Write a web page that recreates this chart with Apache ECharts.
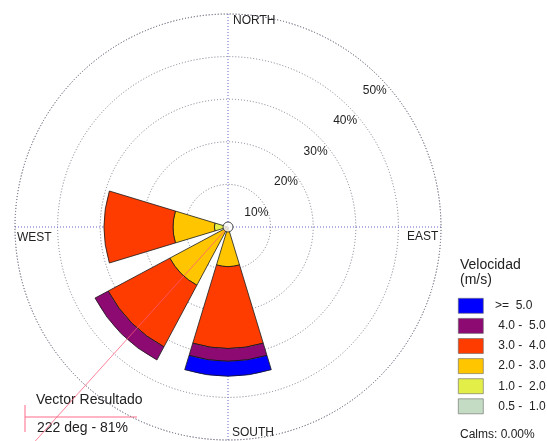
<!DOCTYPE html>
<html>
<head>
<meta charset="utf-8">
<script src="https://cdn.jsdelivr.net/npm/echarts@6/dist/echarts.min.js"></script>
<style>
html,body{margin:0;padding:0;background:#fff;}
#main{width:547px;height:441px;}
</style>
</head>
<body>
<div id="main"></div>
<script>
// direcciones (8 rumbos)
var directions = ['N','NE','E','SE','S','SW','W','NW'];
// frecuencias (%) por clase de velocidad, en el orden de directions
var v05_10 = [0, 0, 0, 0, 0, 0, 0, 0];
var v10_20 = [0, 0, 0, 0, 0, 0, 3.2, 0];
var v20_30 = [0, 0, 0, 0, 9.3, 15.5, 9.7, 0];
var v30_40 = [0, 0, 0, 0, 19.2, 16.4, 16.2, 0];
var v40_50 = [0, 0, 0, 0, 3.0, 3.5, 0, 0];
var v50_up = [0, 0, 0, 0, 3.5, 0, 0, 0];
var speedClasses = ['0.5 - 1.0','1.0 - 2.0','2.0 - 3.0','3.0 - 4.0','4.0 - 5.0','>= 5.0'];
var speedLabels = [' 0.5 -  1.0',' 1.0 -  2.0',' 2.0 -  3.0',' 3.0 -  4.0',' 4.0 -  5.0','>=  5.0'];
var speedColors = ['#c4dcc4','#e4ee48','#ffc600','#ff3c00','#8c0a72','#0000ff'];
var compass = ['NORTH','EAST','SOUTH','WEST'];
// vector resultante
var vectorDir = 222;
var vectorPct = 81;
var calms = 0.00;

var FONT = '"Liberation Sans", Arial, sans-serif';
var CX = 228, CY = 227, R = 213;

function init(){
	var myChart = echarts.init(document.getElementById('main'));
	var values = [v05_10, v10_20, v20_30, v30_40, v40_50, v50_up];
	var series = [];
	for(var i=0;i<speedClasses.length;i++){
		series.push({
			name:speedClasses[i],
			type:'bar',
			coordinateSystem:'polar',
			polarIndex:0,
			stack:'freq',
			barCategoryGap:'25%',
			// los ceros no se dibujan
			data:values[i].map(function(v){ return v === 0 ? '-' : v; }),
			itemStyle:{color:speedColors[i],borderColor:'#1a1a1a',borderWidth:0.8},
			emphasis:{disabled:true},
			z:3
		});
	}
	// vector resultado
	series.push({
		type:'line',
		coordinateSystem:'polar',
		polarIndex:3,
		data:[[0,vectorDir],[vectorPct,vectorDir]],
		symbol:'none',
		clip:false,
		lineStyle:{color:'#ff5a7a',width:1,opacity:0.75},
		z:5,
		silent:true
	});
	// circulo central
	series.push({
		type:'scatter',
		coordinateSystem:'polar',
		polarIndex:1,
		data:[[0,0]],
		symbolSize:10,
		itemStyle:{color:'#fff',borderColor:'#222',borderWidth:1},
		z:6,
		silent:true
	});

	var dotted = [1,2];
	var hidden = {axisLine:{show:false},axisTick:{show:false},axisLabel:{show:false},splitLine:{show:false}};
	var option = {
		backgroundColor:'#fff',
		animation:false,
		textStyle:{fontFamily:FONT},
		polar:[
			{center:[CX,CY],radius:R},
			{center:[CX,CY],radius:R},
			{center:[CX,CY],radius:R},
			{center:[CX,CY],radius:R*2}
		],
		angleAxis:[
			echarts.util.merge({polarIndex:0,type:'category',data:directions,startAngle:112.5,clockwise:true,boundaryGap:true}, hidden),
			{
				polarIndex:1,type:'value',min:0,max:360,interval:90,
				startAngle:90,clockwise:true,
				axisLine:{show:true,lineStyle:{color:'#7c7c8c',width:1,type:dotted}},
				axisTick:{show:false},axisLabel:{show:false},
				splitLine:{show:true,lineStyle:{color:'#6464cc',width:1,type:dotted}}
			},
			echarts.util.merge({polarIndex:2,type:'value',min:0,max:360,startAngle:46,clockwise:true}, hidden),
			echarts.util.merge({polarIndex:3,type:'value',min:0,max:360,startAngle:90,clockwise:true}, hidden)
		],
		radiusAxis:[
			echarts.util.merge({polarIndex:0,type:'value',min:0,max:50}, hidden),
			{
				polarIndex:1,type:'value',min:0,max:50,interval:10,
				axisLine:{show:false},axisTick:{show:false},axisLabel:{show:false},
				splitLine:{show:true,lineStyle:{color:'#7c7c8c',width:1,type:dotted}}
			},
			{
				polarIndex:2,type:'value',min:0,max:50,interval:10,
				axisLine:{show:false},axisTick:{show:false},splitLine:{show:false},
				axisLabel:{
					show:true,showMinLabel:false,margin:-15,
					align:'right',verticalAlign:'top',
					color:'#222',fontSize:12,fontFamily:FONT,
					formatter:function(v){ return v + '%'; }
				}
			},
			echarts.util.merge({polarIndex:3,type:'value',min:0,max:100}, hidden)
		],
		legend:{
			orient:'vertical',
			left:458,top:298,padding:0,
			itemWidth:25,itemHeight:15,itemGap:4.5,
			icon:'rect',
			data:speedClasses.slice().reverse(),
			selectedMode:false,
			itemStyle:{borderColor:'#666',borderWidth:0.6},
			textStyle:{color:'#222',fontSize:12,fontFamily:FONT},
			formatter:function(name){ return '  ' + speedLabels[speedClasses.indexOf(name)]; }
		},
		graphic:[
			{type:'text',left:233,top:15,style:{text:compass[0],fill:'#222',font:'12px ' + FONT}},
			{type:'text',left:407,top:231,style:{text:compass[1],fill:'#222',font:'12px ' + FONT}},
			{type:'text',left:232,top:427,style:{text:compass[2],fill:'#222',font:'12px ' + FONT}},
			{type:'text',left:17,top:232,style:{text:compass[3],fill:'#222',font:'12px ' + FONT}},
			{type:'text',left:460,top:258,style:{text:'Velocidad\n(m/s)',fill:'#222',font:'14px ' + FONT,lineHeight:15}},
			{type:'text',left:460,top:429,style:{text:'Calms: ' + calms.toFixed(2) + '%',fill:'#222',font:'12px ' + FONT}},
			{type:'text',left:36,top:393,style:{text:'Vector Resultado',fill:'#222',font:'14px ' + FONT}},
			{type:'text',left:37,top:421,style:{text:vectorDir + ' deg - ' + vectorPct + '%',fill:'#222',font:'14px ' + FONT}},
			{type:'line',shape:{x1:25,y1:417,x2:137,y2:417},style:{stroke:'#ff6a88',lineWidth:1}},
			{type:'line',shape:{x1:25,y1:405,x2:25,y2:432},style:{stroke:'#ff6a88',lineWidth:1}}
		],
		series:series
	};
	myChart.setOption(option);
}
init();
</script>
</body>
</html>
